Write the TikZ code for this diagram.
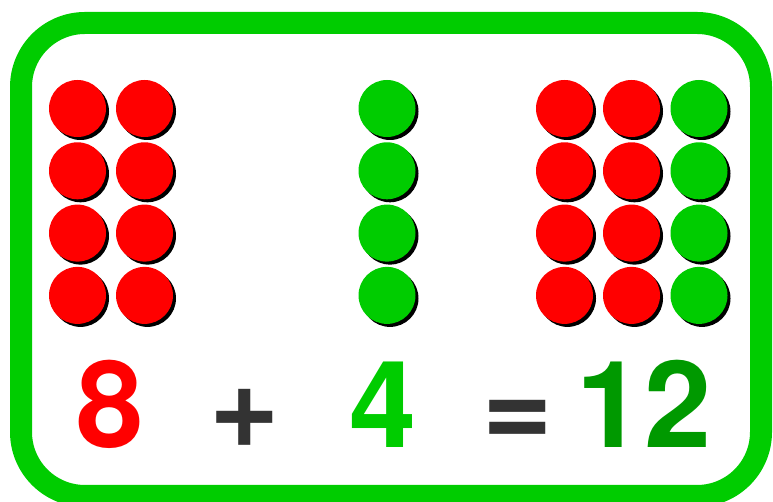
\documentclass[tikz,border=0pt]{standalone}
\usepackage{fontspec}
\setmainfont{TeX Gyre Heros}
\usepackage{tikz}
\usetikzlibrary{shadows}
\definecolor{sumred}{HTML}{FF0000}
\definecolor{sumgreen}{HTML}{00CC00}
\definecolor{sumdark}{HTML}{009900}
\definecolor{sumgray}{HTML}{333333}

\begin{document}
\begin{tikzpicture}[
    x=0.3mm,y=0.3mm,
    dot/.style = {circle,inner sep=0pt,minimum size=17.1mm,
                  drop shadow={shadow xshift=0.9mm,shadow yshift=-0.9mm,
                               fill=black,opacity=1}},
    num/.style = {anchor=base,inner sep=0pt,
                  font=\fontsize{103}{103}\selectfont\bfseries},
  ]
  \useasboundingbox (0,0) rectangle (773,502);

  \draw[sumgreen,line width=6.6mm,rounded corners=19.2mm] (21,6) rectangle (761,479);

  % counters: 8 + 4 = 12
  \foreach \r/\y in {1/393.5,2/331.2,3/268.9,4/206.6} {
    \node[dot,fill=sumred]   (a\r) at (77.5,\y)  {};
    \node[dot,fill=sumred]   (b\r) at (144.5,\y) {};
    \node[dot,fill=sumgreen] (c\r) at (387,\y)   {};
    \node[dot,fill=sumred]   (d\r) at (564.5,\y) {};
    \node[dot,fill=sumred]   (e\r) at (631.5,\y) {};
    \node[dot,fill=sumgreen] (f\r) at (699,\y)   {};
  }

  \node[num,text=sumred]   (eight)  at (110,54) {8};
  \node[num,text=sumgray]  (plus)   at (245,54) {+};
  \node[num,text=sumgreen] (four)   at (383,54) {4};
  \node[num,text=sumgray]  (equals) at (518,54) {=};
  \node[num,text=sumdark]  (twelve) at (644,54) {12};

\end{tikzpicture}
\end{document}
